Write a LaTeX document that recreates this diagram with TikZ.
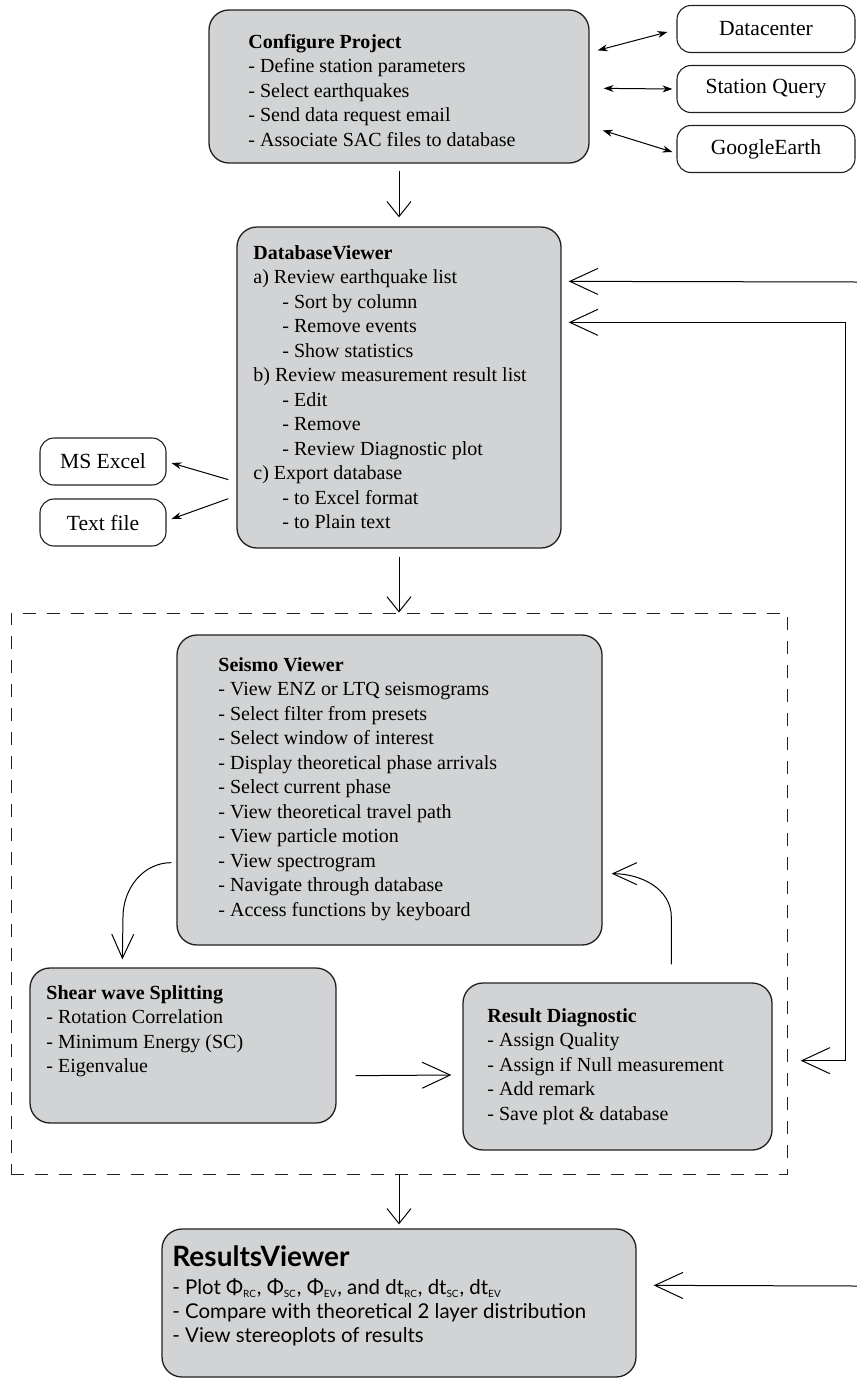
\documentclass[tikz,border=0pt]{standalone}
\usepackage{fontspec}
\setmainfont{Liberation Serif}
\newfontfamily\rvfont{Lato}
\usetikzlibrary{arrows.meta,calc,fit}

\definecolor{panelgray}{RGB}{209,211,212}
\definecolor{edgegray}{RGB}{35,31,32}

\tikzset{
  panel/.style={draw=edgegray,fill=panelgray,line width=0.65pt,rounded corners=10pt,inner sep=0pt},
  toolbox/.style={draw=edgegray,line width=0.55pt,rounded corners=7pt,minimum height=23.5pt,inner sep=0pt,font=\fontsize{10.8}{12}\selectfont},
  txt/.style={anchor=north west,inner sep=0pt,align=left,font=\fontsize{10}{12.25}\selectfont},
  flow/.style={line width=0.5pt,-{Straight Barb[length=14pt,width=13pt]}},
  drop/.style={line width=0.5pt,-{Straight Barb[length=7.5pt,width=12pt]}},
  curvearrow/.style={line width=0.5pt,-{Straight Barb[length=12pt,width=11pt]}},
  link/.style={line width=0.5pt,{Stealth[length=5pt,width=3.5pt]}-{Stealth[length=5pt,width=3.5pt]}},
  export/.style={line width=0.5pt,-{Stealth[length=5pt,width=3.5pt]}}
}

\begin{document}
\begin{tikzpicture}[x=0.5pt,y=-0.5pt]
\useasboundingbox (0,0) rectangle (857,1382);

% project set-up and outside tools
\node[panel,fit={(209,10)(589,163)}] (cfg) {};
\node[txt] (cfgtxt) at (248,34) {\textbf{Configure Project}\\- Define station parameters\\- Select earthquakes\\- Send data request email\\- Associate SAC files to database};

\node[toolbox,minimum width=89pt] (dc) at (766,29) {Datacenter};
\node[toolbox,minimum width=89pt] (sq) at (766,89) {Station Query};
\node[toolbox,minimum width=89pt] (ge) at (766,149) {GoogleEarth};

\draw[link] ($(cfg.north east)+(8,41)$) -- ($(dc.west)+(-9,3)$);
\draw[link] ($(cfg.north east)+(14,79)$) -- ($(sq.west)+(-4,0)$);
\draw[link] ($(cfg.north east)+(13,121)$) -- ($(ge.west)+(-4,3)$);

% database
\node[panel,fit={(237,227)(561,548)}] (db) {};
\node[txt] (dbtxt) at (253,245) {\textbf{DatabaseViewer}\\a) Review earthquake list\\\hspace*{14.5pt}- Sort by column\\\hspace*{14.5pt}- Remove events\\\hspace*{14.5pt}- Show statistics\\b) Review measurement result list\\\hspace*{14.5pt}- Edit\\\hspace*{14.5pt}- Remove\\\hspace*{14.5pt}- Review Diagnostic plot\\c) Export database\\\hspace*{14.5pt}- to Excel format\\\hspace*{14.5pt}- to Plain text};

\node[toolbox,minimum width=63pt] (xl) at (103,461.5) {MS Excel};
\node[toolbox,minimum width=63pt] (tf) at (103,522.5) {Text file};

\draw[export] ($(db.south west)+(-8,-69)$) -- ($(xl.east)+(5,1.5)$);
\draw[export] ($(db.south west)+(-8,-50)$) -- ($(tf.east)+(5,-3.5)$);
\draw[drop] ($(cfg.south)+(0,7)$) -- ($(db.north)+(0,-9)$);

% measurement loop
\node[draw=edgegray,line width=0.5pt,dash pattern=on 6.5pt off 5.5pt,inner sep=0pt,fit={(11,613)(787,1174)}] (loop) {};
\draw[drop] ($(db.south)+(0,8)$) -- (loop.north);

\node[panel,fit={(177,635)(602,945)}] (seis) {};
\node[txt] (seistxt) at (218,657) {\textbf{Seismo Viewer}\\- View ENZ or LTQ seismograms\\- Select filter from presets\\- Select window of interest\\- Display theoretical phase arrivals\\- Select current phase\\- View theoretical travel path\\- View particle motion\\- View spectrogram\\- Navigate through database\\- Access functions by keyboard};

\node[panel,fit={(30,968)(336,1123)}] (shear) {};
\node[txt] (sheartxt) at (46,985) {\textbf{Shear wave Splitting}\\- Rotation Correlation\\- Minimum Energy (SC)\\- Eigenvalue};

\node[panel,fit={(463,983)(772,1150)}] (rd) {};
\node[txt] (rdtxt) at (487,1008) {\textbf{Result Diagnostic}\\- Assign Quality\\- Assign if Null measurement\\- Add remark\\- Save plot \& database};

\draw[curvearrow] ($(seis.south west)+(-5,-83)$) to[out=180,in=90] (123,917) -- ($(shear.north west)+(93,-8)$);
\draw[flow] ($(shear.south east)+(19,-48)$) -- ($(rd.west)+(-11,8.5)$);
\draw[curvearrow] ($(rd.north west)+(209,-18)$) -- ++(0,-47) to[out=90,in=0] ($(seis.south east)+(9,-72)$);

% feedback to database
\coordinate (in1) at (857,282);
\draw[flow] (in1) -- ($(db.north east)+(7,55)$);
\draw[{Straight Barb[length=14pt,width=13pt]}-{Straight Barb[length=14pt,width=13pt]},line width=0.5pt] ($(db.north east)+(7,96)$) -- ++(277,0) |- ($(rd.south east)+(28,-90)$);

% results
\node[panel,fit={(162,1229)(636,1377)}] (rv) {};
\node[txt,font=\rvfont\fontsize{10.2}{12}\selectfont] (rvtxt) at (172,1245) {{\bfseries\fontsize{14}{15}\selectfont ResultsViewer}\\[2pt]- Plot Φ\textsubscript{\fontsize{5}{5}\selectfont RC}, Φ\textsubscript{\fontsize{5}{5}\selectfont SC}, Φ\textsubscript{\fontsize{5}{5}\selectfont EV}, and dt\textsubscript{\fontsize{5}{5}\selectfont RC}, dt\textsubscript{\fontsize{5}{5}\selectfont SC}, dt\textsubscript{\fontsize{5}{5}\selectfont EV}\\- Compare with theoretical 2 layer distribution\\- View stereoplots of results};

\draw[drop] (loop.south) -- ($(rv.north)+(0,-4)$);
\coordinate (in2) at (857,1286);
\draw[flow] (in2) -- ($(rv.north east)+(17,57)$);
\end{tikzpicture}
\end{document}
